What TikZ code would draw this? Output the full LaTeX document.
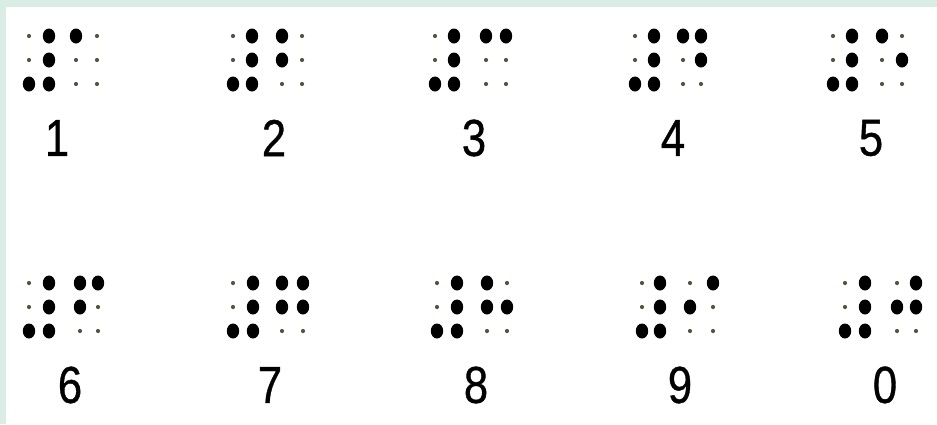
\documentclass[tikz,border=0pt]{standalone}
\usepackage{fontspec}
\setmainfont{Liberation Sans}
\newfontfamily\digitfont{Liberation Sans}[FakeBold=0.8]
\usepackage{tikz}

\definecolor{framemint}{RGB}{218,237,229}
\definecolor{pinhole}{RGB}{85,85,65}

% one six-dot cell: left x, right x, top y, row step, dot styles (1,2,3,4,5,6)
\newcommand{\dotcell}[5]{%
  \foreach \s [count=\i from 0] in {#5}{
    \pgfmathsetmacro{\cx}{\i<3 ? #1 : #2}
    \pgfmathsetmacro{\cy}{#3+mod(\i,3)*#4}
    \path[\s] (\cx,\cy) circle;
  }}
\newcommand{\numsign}[3]{\dotcell{#1}{#2}{#3}{24}{flat,flat,raised,raised,raised,raised}}
\newcommand{\narrow}[1]{\scalebox{0.84}[1]{#1}}

\begin{document}
\begin{tikzpicture}[x=1pt,y=-1pt,
raised/.style={fill=black,x radius=6.2pt,y radius=7.5pt},
flat/.style={fill=pinhole,radius=2.1pt},
digit/.style={font=\fontsize{52}{52}\selectfont\digitfont,inner sep=0pt}]
\useasboundingbox (0,0) rectangle (937,424);
\fill[white] (0,0) rectangle (937,424);
\fill[framemint] (0,0) rectangle (937,7);
\fill[framemint] (0,0) rectangle (6,424);

% upper row
\numsign{29}{49}{36}  \dotcell{76}{97}{36}{24}{raised,flat,flat,flat,flat,flat}
\numsign{233}{252}{36} \dotcell{282}{302}{36}{24}{raised,raised,flat,flat,flat,flat}
\numsign{435}{454}{36} \dotcell{486}{506}{36}{24}{raised,flat,flat,raised,flat,flat}
\numsign{635}{654}{36} \dotcell{683}{701}{36}{24}{raised,flat,flat,raised,raised,flat}
\numsign{833}{852}{36} \dotcell{882}{902}{36}{24}{raised,flat,flat,flat,raised,flat}
\node[digit] (lbl1) at (57,138) {\narrow{1}};
\node[digit] (lbl2) at (274,138) {\narrow{2}};
\node[digit] (lbl3) at (474,138) {\narrow{3}};
\node[digit] (lbl4) at (673,138) {\narrow{4}};
\node[digit] (lbl5) at (871,138) {\narrow{5}};

% lower row
\numsign{29}{49}{283}  \dotcell{80}{98}{283}{24}{raised,raised,flat,raised,flat,flat}
\numsign{233}{253}{283} \dotcell{282}{303}{283}{24}{raised,raised,flat,raised,raised,flat}
\numsign{437}{457}{283} \dotcell{487}{507}{283}{24}{raised,raised,flat,flat,raised,flat}
\numsign{642}{660}{283} \dotcell{690}{713}{283}{24}{flat,raised,flat,raised,flat,flat}
\numsign{845}{865}{283} \dotcell{897}{916}{283}{24}{flat,raised,flat,raised,raised,flat}
\node[digit] (lbl6) at (70,385) {\narrow{6}};
\node[digit] (lbl7) at (270,385) {\narrow{7}};
\node[digit] (lbl8) at (476,385) {\narrow{8}};
\node[digit] (lbl9) at (680,385) {\narrow{9}};
\node[digit] (lbl0) at (885,385) {\narrow{0}};
\end{tikzpicture}
\end{document}
